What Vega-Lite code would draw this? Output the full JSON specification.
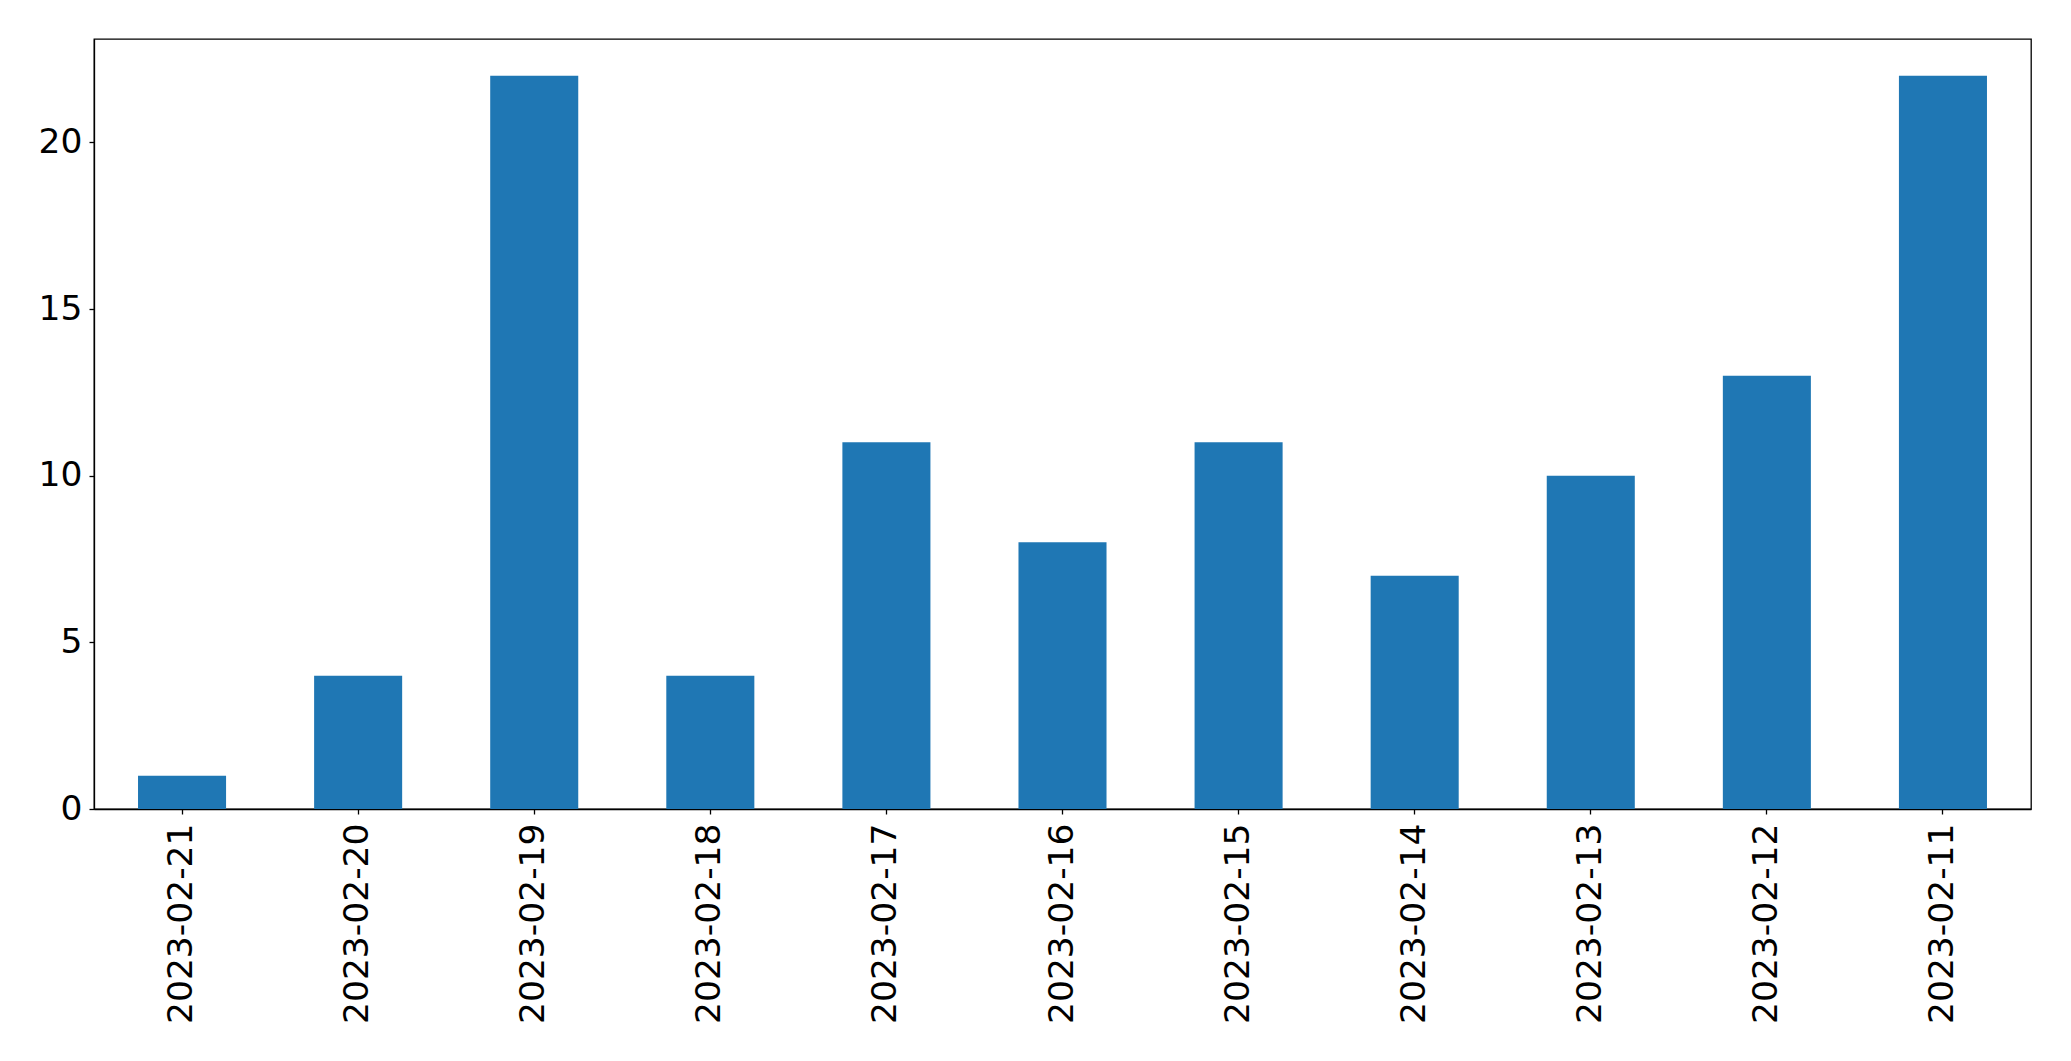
{
  "$schema": "https://vega.github.io/schema/vega-lite/v6.json",
  "autosize": {"type": "none"},
  "padding": {"left": 94, "top": 39, "right": 40, "bottom": 252},
  "width": 1937,
  "height": 770,
  "background": "white",
  "data": {"values": [
    {"date": "2023-02-21", "count": 1},
    {"date": "2023-02-20", "count": 4},
    {"date": "2023-02-19", "count": 22},
    {"date": "2023-02-18", "count": 4},
    {"date": "2023-02-17", "count": 11},
    {"date": "2023-02-16", "count": 8},
    {"date": "2023-02-15", "count": 11},
    {"date": "2023-02-14", "count": 7},
    {"date": "2023-02-13", "count": 10},
    {"date": "2023-02-12", "count": 13},
    {"date": "2023-02-11", "count": 22}
  ]},
  "mark": {"type": "bar", "color": "#1f77b4"},
  "encoding": {
    "x": {
      "field": "date", "type": "nominal", "sort": null,
      "scale": {"paddingInner": 0.5, "paddingOuter": 0.25},
      "axis": {
        "title": null, "labelAngle": -90, "labelAlign": "right", "labelBaseline": "middle",
        "labelFont": "DejaVu Sans", "labelFontSize": 34.5, "labelColor": "black", "labelLimit": 0,
        "labelPadding": 9, "tickSize": 5, "tickColor": "black", "tickWidth": 1.3,
        "domainColor": "black", "domainWidth": 1.3, "grid": false
      }
    },
    "y": {
      "field": "count", "type": "quantitative",
      "scale": {"domain": [0, 23.1], "nice": false, "zero": true},
      "axis": {
        "title": null, "values": [0, 5, 10, 15, 20],
        "labelFont": "DejaVu Sans", "labelFontSize": 34.5, "labelColor": "black",
        "labelPadding": 7, "tickSize": 5, "tickColor": "black", "tickWidth": 1.3,
        "domainColor": "black", "domainWidth": 1.3, "grid": false
      }
    }
  },
  "config": {
    "view": {"stroke": "black", "strokeWidth": 1.3}
  }
}
